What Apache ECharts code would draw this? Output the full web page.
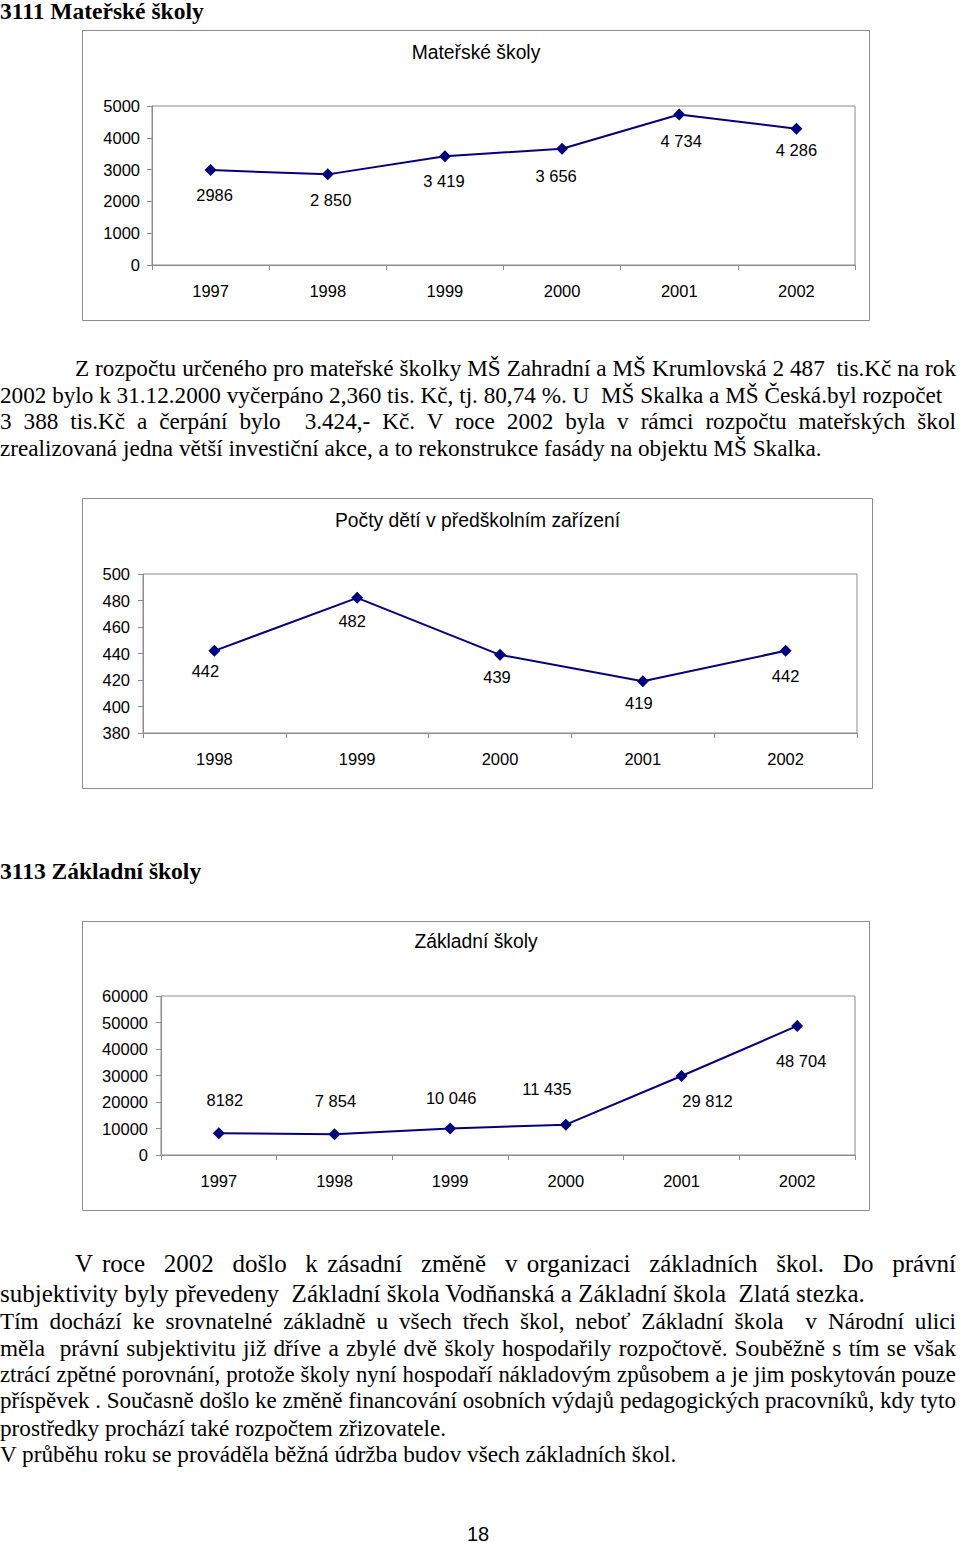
<!DOCTYPE html>
<html><head><meta charset="utf-8">
<script src="https://cdn.jsdelivr.net/npm/echarts@6/dist/echarts.min.js"></script>
<style>
html,body{margin:0;padding:0;background:#fff;}
body{position:relative;width:960px;height:1543px;overflow:hidden;font-family:'Liberation Serif','Times New Roman',serif;color:#000;}
.h{position:absolute;left:0;font-weight:bold;font-size:23.5px;line-height:24px;white-space:nowrap;}
.ln{position:absolute;left:0;width:956px;font-size:23.2px;line-height:26px;white-space:pre;}
.j{text-align:justify;text-align-last:justify;white-space:pre-wrap;}
.chart{position:absolute;}
.pg{position:absolute;left:0;width:956px;text-align:center;font-family:'Liberation Sans',Arial,sans-serif;font-size:20px;line-height:20px;}
</style></head>
<body>
<div class="h" style="top:-1px;">3111 Mateřské školy</div>
<div class="chart" id="c1" style="left:82px;top:30px;width:788px;height:291px;"></div>

<div class="ln j" style="top:355px;left:75px;width:881px;font-size:24px;">Z rozpočtu určeného pro mateřské školky MŠ Zahradní a MŠ Krumlovská 2 487  tis.Kč na rok</div>
<div class="ln" style="top:382px;">2002 bylo k 31.12.2000 vyčerpáno 2,360 tis. Kč, tj. 80,74 %. U  MŠ Skalka a MŠ Česká.byl rozpočet</div>
<div class="ln j" style="top:408px;">3 388 tis.Kč a čerpání bylo  3.424,- Kč. V roce 2002 byla v rámci rozpočtu mateřských škol</div>
<div class="ln" style="top:435px;">zrealizovaná jedna větší investiční akce, a to rekonstrukce fasády na objektu MŠ Skalka.</div>

<div class="chart" id="c2" style="left:82px;top:498px;width:791px;height:291px;"></div>

<div class="h" style="top:859px;">3113 Základní školy</div>
<div class="chart" id="c3" style="left:82px;top:921px;width:788px;height:290px;"></div>

<div class="ln j" style="top:1251px;left:75px;width:881px;font-size:25px;">V roce  2002  došlo  k zásadní  změně  v organizaci  základních  škol.  Do  právní</div>
<div class="ln" style="top:1281px;font-size:25px;">subjektivity byly převedeny  Základní škola Vodňanská a Základní škola  Zlatá stezka.</div>
<div class="ln j" style="top:1308px;">Tím dochází ke srovnatelné základně u všech třech škol, neboť Základní škola  v Národní ulici</div>
<div class="ln j" style="top:1335px;">měla  právní subjektivitu již dříve a zbylé dvě školy hospodařily rozpočtově. Souběžně s tím se však</div>
<div class="ln j" style="top:1362px;">ztrácí zpětné porovnání, protože školy nyní hospodaří nákladovým způsobem a je jim poskytován pouze</div>
<div class="ln j" style="top:1388px;">příspěvek . Současně došlo ke změně financování osobních výdajů pedagogických pracovníků, kdy tyto</div>
<div class="ln" style="top:1415px;">prostředky prochází také rozpočtem zřizovatele.</div>
<div class="ln" style="top:1441px;">V průběhu roku se prováděla běžná údržba budov všech základních škol.</div>

<div class="pg" style="top:1524px;">18</div>

<script>
// shrink justified single lines until they fit on one line
document.querySelectorAll('.j').forEach(el => {
  let fs = parseFloat(getComputedStyle(el).fontSize);
  while (el.scrollHeight > 30 && fs > 14) {
    fs -= 0.1;
    el.style.fontSize = fs + 'px';
  }
});

// ---- data ----
const msYears = ['1997', '1998', '1999', '2000', '2001', '2002'];
const msValues = [2986, 2850, 3419, 3656, 4734, 4286];
const msLabels = ['2986', '2 850', '3 419', '3 656', '4 734', '4 286'];

const detiYears = ['1998', '1999', '2000', '2001', '2002'];
const detiValues = [442, 482, 439, 419, 442];
const detiLabels = ['442', '482', '439', '419', '442'];

const zsYears = ['1997', '1998', '1999', '2000', '2001', '2002'];
const zsValues = [8182, 7854, 10046, 11435, 29812, 48704];
const zsLabels = ['8182', '7 854', '10 046', '11 435', '29 812', '48 704'];

// ---- layout (label placement relative to markers) ----
const msLabelOffsets = [[4, 25], [3, 26], [-1, 25], [-6, 27], [2, 27], [0, 21]];
const detiLabelOffsets = [[-9, 20], [-5, 23], [-3, 22], [-4, 22], [0, 25]];
const zsLabelOffsets = [[6, -33], [1, -33], [1, -30], [-19, -36], [26, 25], [4, 35]];

const SANS = "'Liberation Sans', Arial, sans-serif";
const GRAY = '#8c8c8c';
const NAVY = '#000080';
const FS = 16.5;

function makeChart(id, cfg) {
  const el = document.getElementById(id);
  const w = el.clientWidth, h = el.clientHeight;
  const chart = echarts.init(el, null, { renderer: 'svg' });
  chart.setOption({
    animation: false,
    graphic: [{
      type: 'rect', silent: true,
      shape: { x: 0.5, y: 0.5, width: w - 1, height: h - 1 },
      style: { fill: 'none', stroke: GRAY, lineWidth: 1 }
    }],
    title: {
      text: cfg.title, left: 'center', top: cfg.titleTop, padding: 0,
      textStyle: { fontFamily: SANS, fontSize: 19.3, fontWeight: 'normal', color: '#000' }
    },
    grid: Object.assign({ show: true, borderColor: GRAY, borderWidth: 1, backgroundColor: 'transparent', containLabel: false }, cfg.grid),
    xAxis: {
      type: 'category', data: cfg.cats, boundaryGap: true,
      axisLine: { show: true, lineStyle: { color: GRAY, width: 1 } },
      axisTick: { show: true, alignWithLabel: false, inside: false, length: 5, lineStyle: { color: GRAY } },
      axisLabel: { color: '#000', fontFamily: SANS, fontSize: FS, margin: 17 },
      splitLine: { show: false }
    },
    yAxis: {
      type: 'value', min: cfg.min, max: cfg.max, interval: cfg.interval,
      axisLine: { show: true, lineStyle: { color: GRAY, width: 1 } },
      axisTick: { show: true, inside: false, length: 5, lineStyle: { color: GRAY } },
      axisLabel: { color: '#000', fontFamily: SANS, fontSize: FS, margin: cfg.yMargin, formatter: v => String(v) },
      splitLine: { show: false }
    },
    series: [{
      type: 'line',
      data: cfg.values.map((v, i) => ({ value: v, label: { offset: cfg.offsets[i] } })),
      symbol: 'diamond', symbolSize: 12,
      lineStyle: { color: NAVY, width: 2 },
      itemStyle: { color: NAVY },
      label: {
        show: true, position: 'inside', color: '#000', fontFamily: SANS, fontSize: FS,
        formatter: p => cfg.labels[p.dataIndex]
      },
      emphasis: { disabled: true }
    }]
  });
}

makeChart('c1', {
  title: 'Mateřské školy', titleTop: 13,
  cats: msYears, values: msValues, labels: msLabels, offsets: msLabelOffsets,
  min: 0, max: 5000, interval: 1000, yMargin: 12,
  grid: { left: 70, top: 76, right: 15, bottom: 56 }
});
makeChart('c2', {
  title: 'Počty dětí v předškolním zařízení', titleTop: 13,
  cats: detiYears, values: detiValues, labels: detiLabels, offsets: detiLabelOffsets,
  min: 380, max: 500, interval: 20, yMargin: 13,
  grid: { left: 61, top: 76, right: 16, bottom: 56 }
});
makeChart('c3', {
  title: 'Základní školy', titleTop: 11,
  cats: zsYears, values: zsValues, labels: zsLabels, offsets: zsLabelOffsets,
  min: 0, max: 60000, interval: 10000, yMargin: 13,
  grid: { left: 79, top: 75, right: 15, bottom: 56 }
});
</script>
</body></html>
